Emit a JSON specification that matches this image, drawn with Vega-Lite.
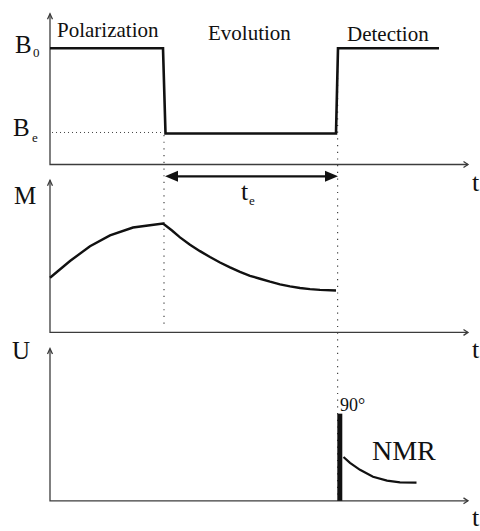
{
  "$schema": "https://vega.github.io/schema/vega-lite/v6.json",
  "width": 480,
  "height": 531,
  "autosize": {"type": "fit", "contains": "padding"},
  "padding": 0,
  "background": "white",
  "config": {"view": {"stroke": null}},
  "datasets": {
    "axes": [
      {"g": "a1", "o": 1, "x": 50, "y": 14}, {"g": "a1", "o": 2, "x": 50, "y": 167}, {"g": "a1", "o": 3, "x": 468, "y": 167},
      {"g": "a2", "o": 1, "x": 50, "y": 183}, {"g": "a2", "o": 2, "x": 50, "y": 337.5}, {"g": "a2", "o": 3, "x": 468, "y": 337.5},
      {"g": "a3", "o": 1, "x": 50, "y": 354}, {"g": "a3", "o": 2, "x": 50, "y": 508.5}, {"g": "a3", "o": 3, "x": 468, "y": 508.5},
      {"g": "h1", "o": 1, "x": 47.5, "y": 19.5}, {"g": "h1", "o": 2, "x": 50, "y": 14}, {"g": "h1", "o": 3, "x": 52.5, "y": 19.5},
      {"g": "h2", "o": 1, "x": 47.5, "y": 188.5}, {"g": "h2", "o": 2, "x": 50, "y": 183}, {"g": "h2", "o": 3, "x": 52.5, "y": 188.5},
      {"g": "h3", "o": 1, "x": 47.5, "y": 359.5}, {"g": "h3", "o": 2, "x": 50, "y": 354}, {"g": "h3", "o": 3, "x": 52.5, "y": 359.5},
      {"g": "r1", "o": 1, "x": 463.5, "y": 164}, {"g": "r1", "o": 2, "x": 468, "y": 167}, {"g": "r1", "o": 3, "x": 463.5, "y": 170},
      {"g": "r2", "o": 1, "x": 463.5, "y": 334.5}, {"g": "r2", "o": 2, "x": 468, "y": 337.5}, {"g": "r2", "o": 3, "x": 463.5, "y": 340.5},
      {"g": "r3", "o": 1, "x": 463.5, "y": 505.5}, {"g": "r3", "o": 2, "x": 468, "y": 508.5}, {"g": "r3", "o": 3, "x": 463.5, "y": 511.5}
    ],
    "field": [
      {"g": "B", "o": 1, "x": 50, "y": 49}, {"g": "B", "o": 2, "x": 163, "y": 49}, {"g": "B", "o": 3, "x": 165.5, "y": 135.5},
      {"g": "B", "o": 4, "x": 336, "y": 135.5}, {"g": "B", "o": 5, "x": 338, "y": 49}, {"g": "B", "o": 6, "x": 439, "y": 49}
    ],
    "magnet": [
      {"g": "M", "o": 1, "x": 50, "y": 282}, {"g": "M", "o": 2, "x": 70, "y": 265}, {"g": "M", "o": 3, "x": 90, "y": 250},
      {"g": "M", "o": 4, "x": 110, "y": 239}, {"g": "M", "o": 5, "x": 133, "y": 231}, {"g": "M", "o": 6, "x": 148, "y": 229},
      {"g": "M", "o": 7, "x": 163, "y": 227}, {"g": "M", "o": 8, "x": 172, "y": 234}, {"g": "M", "o": 9, "x": 180, "y": 241},
      {"g": "M", "o": 10, "x": 190, "y": 248.5}, {"g": "M", "o": 11, "x": 200, "y": 255}, {"g": "M", "o": 12, "x": 210, "y": 261},
      {"g": "M", "o": 13, "x": 220, "y": 266.5}, {"g": "M", "o": 14, "x": 230, "y": 271.5}, {"g": "M", "o": 15, "x": 240, "y": 276},
      {"g": "M", "o": 16, "x": 250, "y": 280}, {"g": "M", "o": 17, "x": 260, "y": 283}, {"g": "M", "o": 18, "x": 270, "y": 286},
      {"g": "M", "o": 19, "x": 280, "y": 288.7}, {"g": "M", "o": 20, "x": 290, "y": 290.8}, {"g": "M", "o": 21, "x": 300, "y": 292.4},
      {"g": "M", "o": 22, "x": 310, "y": 293.5}, {"g": "M", "o": 23, "x": 320, "y": 294.3}, {"g": "M", "o": 24, "x": 336, "y": 295}
    ],
    "nmr": [
      {"g": "N", "o": 1, "x": 343.5, "y": 464}, {"g": "N", "o": 2, "x": 350, "y": 470}, {"g": "N", "o": 3, "x": 360, "y": 477},
      {"g": "N", "o": 4, "x": 373, "y": 484}, {"g": "N", "o": 5, "x": 387, "y": 488}, {"g": "N", "o": 6, "x": 400, "y": 489.7},
      {"g": "N", "o": 7, "x": 416.5, "y": 490}
    ],
    "pulse": [
      {"g": "P", "o": 1, "x": 339.8, "y": 420}, {"g": "P", "o": 2, "x": 339.8, "y": 508.5}
    ],
    "vdots": [
      {"g": "v1", "o": 1, "x": 164, "y": 137}, {"g": "v1", "o": 2, "x": 164, "y": 331},
      {"g": "v2", "o": 1, "x": 337.6, "y": 52}, {"g": "v2", "o": 2, "x": 337.6, "y": 508}
    ],
    "hdots": [
      {"g": "h", "o": 1, "x": 52, "y": 134.5}, {"g": "h", "o": 2, "x": 163, "y": 134.5}
    ],
    "span": [
      {"g": "S", "o": 1, "x": 174, "y": 179}, {"g": "S", "o": 2, "x": 329, "y": 179}
    ],
    "headLeft": [{"x": 171.5, "y": 179}],
    "headRight": [{"x": 331.5, "y": 179}],
    "headings": [
      {"x": 57, "y": 38, "label": "Polarization"},
      {"x": 208, "y": 41, "label": "Evolution"},
      {"x": 347, "y": 42, "label": "Detection"}
    ],
    "letters": [
      {"x": 15, "y": 54, "label": "B"},
      {"x": 13, "y": 138, "label": "B"},
      {"x": 14, "y": 207, "label": "M"},
      {"x": 12, "y": 364, "label": "U"}
    ],
    "tlabels": [
      {"x": 472, "y": 194, "label": "t"},
      {"x": 472, "y": 363, "label": "t"},
      {"x": 472, "y": 534, "label": "t"},
      {"x": 241, "y": 203, "label": "t"}
    ],
    "subs": [
      {"x": 33, "y": 58, "label": "0"},
      {"x": 32, "y": 144, "label": "e"},
      {"x": 249, "y": 208, "label": "e"}
    ],
    "nmrlabel": [{"x": 372, "y": 467, "label": "NMR"}],
    "pulselabel": [{"x": 340, "y": 417, "label": "90°"}]
  },
  "encoding": {
    "x": {"field": "x", "type": "quantitative", "scale": {"domain": [0, 480], "nice": false, "zero": false}, "axis": null},
    "y": {"field": "y", "type": "quantitative", "scale": {"domain": [0, 531], "reverse": true, "nice": false, "zero": false}, "axis": null}
  },
  "layer": [
    {
      "data": {"name": "vdots"},
      "mark": {"type": "line", "color": "#444444", "strokeWidth": 1.2, "strokeDash": [1.2, 5.5]},
      "encoding": {"detail": {"field": "g"}, "order": {"field": "o"}}
    },
    {
      "data": {"name": "hdots"},
      "mark": {"type": "line", "color": "#444444", "strokeWidth": 1, "strokeDash": [1, 3]},
      "encoding": {"detail": {"field": "g"}, "order": {"field": "o"}}
    },
    {
      "data": {"name": "axes"},
      "mark": {"type": "line", "color": "#3c3c3c", "strokeWidth": 1.3, "strokeJoin": "miter"},
      "encoding": {"detail": {"field": "g"}, "order": {"field": "o"}}
    },
    {
      "data": {"name": "field"},
      "mark": {"type": "line", "color": "#111111", "strokeWidth": 2.6, "strokeJoin": "miter", "strokeCap": "butt"},
      "encoding": {"detail": {"field": "g"}, "order": {"field": "o"}}
    },
    {
      "data": {"name": "magnet"},
      "mark": {"type": "line", "color": "#111111", "strokeWidth": 2.4},
      "encoding": {"detail": {"field": "g"}, "order": {"field": "o"}}
    },
    {
      "data": {"name": "nmr"},
      "mark": {"type": "line", "color": "#111111", "strokeWidth": 2.2},
      "encoding": {"detail": {"field": "g"}, "order": {"field": "o"}}
    },
    {
      "data": {"name": "pulse"},
      "mark": {"type": "line", "color": "#111111", "strokeWidth": 5, "strokeCap": "butt"},
      "encoding": {"detail": {"field": "g"}, "order": {"field": "o"}}
    },
    {
      "data": {"name": "span"},
      "mark": {"type": "line", "color": "#111111", "strokeWidth": 2.2, "strokeCap": "butt"},
      "encoding": {"detail": {"field": "g"}, "order": {"field": "o"}}
    },
    {
      "data": {"name": "headLeft"},
      "mark": {"type": "point", "shape": "M -1 0 L 1 -0.85 L 1 0.85 Z", "filled": true, "color": "#111111", "opacity": 1, "size": 169, "strokeWidth": 0}
    },
    {
      "data": {"name": "headRight"},
      "mark": {"type": "point", "shape": "M 1 0 L -1 -0.85 L -1 0.85 Z", "filled": true, "color": "#111111", "opacity": 1, "size": 169, "strokeWidth": 0}
    },
    {
      "data": {"name": "headings"},
      "mark": {"type": "text", "font": "Liberation Serif", "fontSize": 21, "align": "left", "baseline": "alphabetic", "color": "#111111"},
      "encoding": {"text": {"field": "label"}}
    },
    {
      "data": {"name": "letters"},
      "mark": {"type": "text", "font": "Liberation Serif", "fontSize": 25, "align": "left", "baseline": "alphabetic", "color": "#111111"},
      "encoding": {"text": {"field": "label"}}
    },
    {
      "data": {"name": "tlabels"},
      "mark": {"type": "text", "font": "Liberation Serif", "fontSize": 26, "align": "left", "baseline": "alphabetic", "color": "#111111"},
      "encoding": {"text": {"field": "label"}}
    },
    {
      "data": {"name": "subs"},
      "mark": {"type": "text", "font": "Liberation Serif", "fontSize": 13, "align": "left", "baseline": "alphabetic", "color": "#111111"},
      "encoding": {"text": {"field": "label"}}
    },
    {
      "data": {"name": "nmrlabel"},
      "mark": {"type": "text", "font": "Liberation Serif", "fontSize": 28, "align": "left", "baseline": "alphabetic", "color": "#111111"},
      "encoding": {"text": {"field": "label"}}
    },
    {
      "data": {"name": "pulselabel"},
      "mark": {"type": "text", "font": "Liberation Serif", "fontSize": 18, "align": "left", "baseline": "alphabetic", "color": "#111111"},
      "encoding": {"text": {"field": "label"}}
    }
  ]
}
